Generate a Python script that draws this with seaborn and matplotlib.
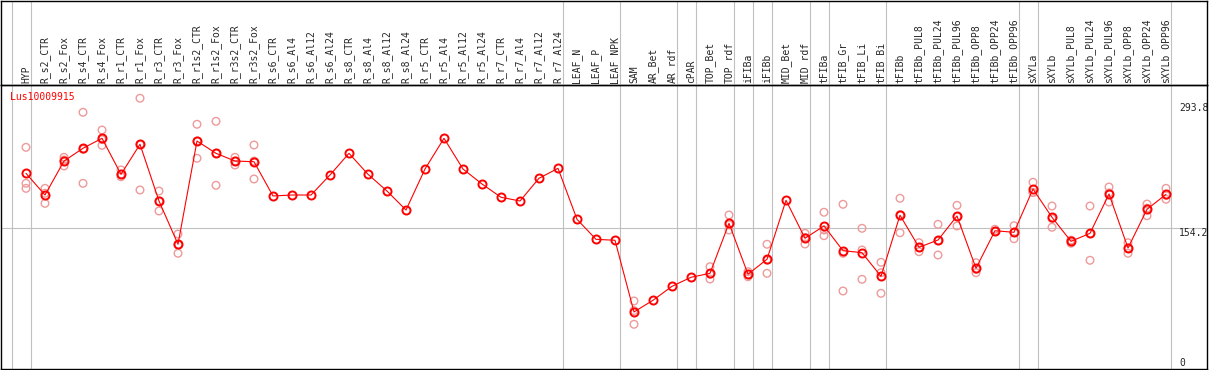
import numpy as np
import pandas as pd
import matplotlib
matplotlib.use("Agg")
import matplotlib.pyplot as plt
import seaborn as sns

# -------------------------------
# Data
# -------------------------------
gene = "Lus10009915"

samples = ["HYP",
           "R_s2_CTR", "R_s2_Fox", "R_s4_CTR", "R_s4_Fox", "R_r1_CTR", "R_r1_Fox",
           "R_r3_CTR", "R_r3_Fox", "R_r1s2_CTR", "R_r1s2_Fox", "R_r3s2_CTR", "R_r3s2_Fox",
           "R_s6_CTR", "R_s6_Al4", "R_s6_Al12", "R_s6_Al24", "R_s8_CTR", "R_s8_Al4",
           "R_s8_Al12", "R_s8_Al24", "R_r5_CTR", "R_r5_Al4", "R_r5_Al12", "R_r5_Al24",
           "R_r7_CTR", "R_r7_Al4", "R_r7_Al12", "R_r7_Al24",
           "LEAF_N", "LEAF_P", "LEAF_NPK",
           "SAM", "AR_Bet", "AR_rdf",
           "cPAR",
           "TOP_Bet", "TOP_rdf",
           "iFIBa",
           "iFIBb",
           "MID_Bet", "MID_rdf",
           "tFIBa",
           "tFIB_Gr", "tFIB_Li", "tFIB_Bi",
           "tFIBb", "tFIBb_PUL8", "tFIBb_PUL24", "tFIBb_PUL96", "tFIBb_OPP8",
           "tFIBb_OPP24", "tFIBb_OPP96",
           "sXYLa",
           "sXYLb", "sXYLb_PUL8", "sXYLb_PUL24", "sXYLb_PUL96", "sXYLb_OPP8",
           "sXYLb_OPP24", "sXYLb_OPP96"]

# number of samples in each tissue group (separated by grey lines)
group_sizes = [1, 28, 3, 3, 1, 2, 1, 1, 2, 1, 3, 7, 1, 7]

mean_expr = [217.6,
             192.6, 231.8, 246.5, 258.0, 216.5, 251.1,
             185.7, 135.8, 254.9, 240.7, 231.8, 231.0,
             191.5, 192.6, 192.6, 215.7, 240.7, 216.5,
             197.2, 175.3, 222.6, 258.0, 222.6, 205.3,
             190.0, 185.7, 211.9, 223.4,
             164.6, 141.5, 140.4,
             57.7, 71.2, 87.3,
             97.7,
             102.3, 160.0,
             101.2,
             118.5,
             186.5, 142.7,
             156.9,
             128.4, 126.1, 98.8,
             169.3, 132.3, 140.7, 168.4, 108.1, 151.4, 149.6,
             199.5,
             166.9, 139.2, 148.4, 193.8, 131.5, 176.1, 193.4]

N = None
rep1 = [247.6,
        200.3, 236.1, 288.0, 267.6, 221.5, 304.2,
        197.2, 147.6, 274.2, 277.6, 236.1, 250.3,
        N, N, N, N, N, N, N, N, N, N, N, N, N, N, N, N,
        N, N, N,
        70.4, N, N,
        N,
        109.9, 169.6,
        104.2,
        135.8,
        N, 148.4,
        172.7,
        181.9, 154.2, 115.0,
        188.8, 137.6, 158.8, 180.7, 114.5, 153.1, 157.2,
        207.3,
        179.9, 137.0, 179.9, 201.8, 137.6, 182.2, 200.3]
rep2 = [206.1,
        183.0, 226.1, 206.1, 249.9, 213.7, 198.4,
        174.2, 125.4, 235.0, 203.8, 227.2, 211.1,
        N, N, N, N, N, N, N, N, N, N, N, N, N, N, N, N,
        N, N, N,
        43.5, N, N,
        N,
        95.7, 152.2,
        98.4,
        102.3,
        N, 136.1,
        145.7,
        125.4, 129.2, 103.0,
        149.1, 127.2, 123.4, 156.9, 103.0, 150.5, 142.2,
        195.7,
        155.4, 140.0, 117.3, 184.5, 125.4, 168.7, 187.7]
rep3 = [200.3,
        194.6, 233.0, 245.3, 256.5, 216.5, 251.1,
        185.7, 134.9, 254.9, 240.7, 231.8, 231.8,
        N, N, N, N, N, N, N, N, N, N, N, N, N, N, N, N,
        N, N, N,
        59.3, N, N,
        N,
        101.3, 158.2,
        101.0,
        117.4,
        N, 143.6,
        152.3,
        81.9, 95.4, 79.2,
        170.0, 132.0, 139.9, 167.6, 106.8, 150.6, 149.4,
        195.5,
        165.4, 140.6, 148.0, 195.1, 131.5, 177.4, 192.2]

y_ticks = [0, 154.2, 293.8]
y_ticklabels = ["0", "154.2", "293.8"]
ref_line = 154.2

# -------------------------------
# Tables for seaborn
# -------------------------------
x_idx = np.arange(len(samples))
df_mean = pd.DataFrame({"x": x_idx, "expr": mean_expr})

rows = []
for rep in (rep1, rep2, rep3):
    for i, v in enumerate(rep):
        if v is not None:
            rows.append((i, v))
df_rep = pd.DataFrame(rows, columns=["x", "expr"])

bounds = np.cumsum([0] + group_sizes) - 0.75

# -------------------------------
# Figure
# -------------------------------
sns.set_style("white")
plt.rcParams["font.family"] = ["DejaVu Sans Mono"]

W, H = 1209, 370
fig = plt.figure(figsize=(W / 100, H / 100), dpi=100)
ax = fig.add_axes([1 / W, 1 / H, 1206 / W, 284 / H])
hdr = fig.add_axes([1 / W, 285 / H, 1206 / W, 84.5 / H], sharex=ax)
hdr.set_facecolor("none")

for v in bounds:
    ax.axvline(v, color="#c0c0c0", lw=0.8, zorder=0)
    hdr.axvline(v, color="#c0c0c0", lw=0.8, zorder=0)
ax.axhline(ref_line, color="#c0c0c0", lw=0.8, zorder=0)

sns.scatterplot(data=df_rep, x="x", y="expr", ax=ax, marker="o", s=30,
                facecolor="none", edgecolor="#ee9a9a", linewidth=1.0, zorder=2)
sns.lineplot(data=df_mean, x="x", y="expr", ax=ax, color="red", lw=0.8,
             marker="o", markersize=5.8, markerfacecolor="none",
             markeredgecolor="red", markeredgewidth=1.4, zorder=3)

ax.set_xlim((1 - 26) / 19, (1207 - 26) / 19)
ax.set_ylim((362 - 369) / 0.867, (362 - 85) / 0.867)
ax.set_xlabel("")
ax.set_ylabel("")

ax.xaxis.tick_top()
ax.set_xticks(x_idx)
ax.set_xticklabels(samples, rotation=90, fontsize=7)
ax.tick_params(axis="x", length=0, pad=1.5)

ax.yaxis.tick_right()
ax.set_yticks(y_ticks)
ax.set_yticklabels(y_ticklabels, fontsize=7)
ax.tick_params(axis="y", length=0, pad=-20)
ax.get_yticklabels()[1].set_va("top")

for a in (ax, hdr):
    for s in a.spines.values():
        s.set_color("black")
        s.set_linewidth(1.0)
hdr.tick_params(left=False, bottom=False, labelleft=False, labelbottom=False)
hdr.set_yticks([])

ax.text(9 / 1206, 0.956, gene, transform=ax.transAxes, color="red",
        fontsize=7, va="center", ha="left")

fig.savefig("out.png", dpi=100)
